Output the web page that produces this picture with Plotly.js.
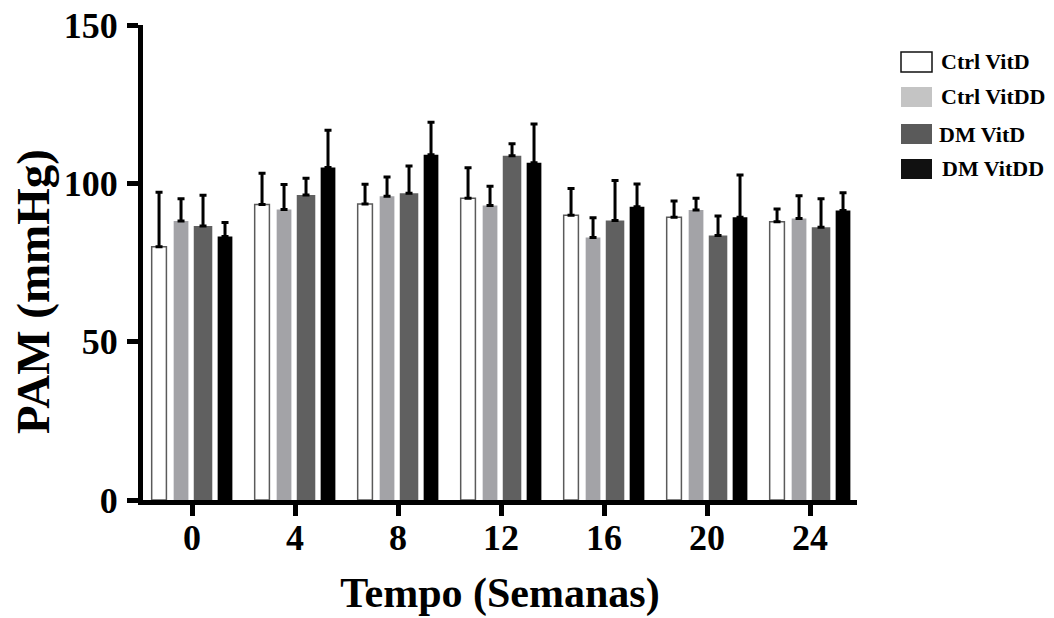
<!DOCTYPE html>
<html>
<head>
<meta charset="utf-8">
<script src="https://cdn.plot.ly/plotly-3.0.1.min.js"></script>
<style>
  html, body { margin: 0; padding: 0; background: #ffffff; }
  #chart { width: 1054px; height: 618px; }
</style>
</head>
<body>
<div id="chart"></div>
<script>
// Mean arterial pressure (PAM) per group over 24 weeks, mean + SD
const weeks = ['0', '4', '8', '12', '16', '20', '24'];
const groupNames = ['Ctrl VitD', 'Ctrl VitDD', 'DM VitD', 'DM VitDD'];

const ctrlVitD      = [80.0, 93.3, 93.5, 95.3, 89.9, 89.3, 87.9];
const ctrlVitDSd    = [17.2,  9.9,  6.2,  9.6,  8.5,  5.1,  4.0];
const ctrlVitDD     = [88.1, 91.7, 95.9, 93.0, 82.9, 91.6, 88.9];
const ctrlVitDDSd   = [ 7.0,  7.9,  6.1,  6.1,  6.2,  3.7,  7.2];
const dmVitD        = [86.5, 96.3, 96.9, 108.7, 88.3, 83.5, 86.1];
const dmVitDSd      = [ 9.7,  5.3,  8.6,  3.8, 12.6,  6.2,  9.0];
const dmVitDD       = [83.2, 105.0, 109.0, 106.5, 92.6, 89.3, 91.4];
const dmVitDDSd     = [ 4.4, 11.8, 10.3, 12.2,  7.2, 13.3,  5.6];

const means = [ctrlVitD, ctrlVitDD, dmVitD, dmVitDD];
const sds = [ctrlVitDSd, ctrlVitDDSd, dmVitDSd, dmVitDDSd];

// styling
const barFill = ['#ffffff', '#a3a3a7', '#606060', '#000000'];
const barEdge = ['#5a5a5a', '#a3a3a7', '#606060', '#000000'];
const barEdgeWidth = [1.5, 0, 0, 0];
const barWidth = [0.143, 0.143, 0.18, 0.143];
const swatchFill = ['#ffffff', '#c4c4c4', '#5a5a5a', '#111111'];

const FONT = '"Liberation Serif", "Times New Roman", serif';

const traces = groupNames.map((name, i) => ({
  type: 'bar',
  name: name,
  x: weeks,
  y: means[i],
  width: barWidth[i],
  marker: { color: barFill[i], line: { color: barEdge[i], width: barEdgeWidth[i] } },
  error_y: {
    type: 'data', array: sds[i], symmetric: false,
    arrayminus: sds[i].map(() => 0),
    color: '#000000', thickness: 3, width: 3.5
  },
  showlegend: false,
  hoverinfo: 'x+y+name'
}));

// plot box in pixels, used to place the hand-drawn key
const W = 1054, H = 618;
const M = { l: 143, r: 197, t: 25, b: 118 };
const pw = W - M.l - M.r, ph = H - M.t - M.b;
const px = x => (x - M.l) / pw;
const py = y => (H - M.b - y) / ph;

const keyRows = [62, 97, 134, 169];
const keyTextX = [939, 939, 937, 940];
const shapes = [];
const annotations = [];
groupNames.forEach((name, i) => {
  const cy = keyRows[i];
  shapes.push({
    type: 'rect', xref: 'paper', yref: 'paper',
    x0: px(901), x1: px(932), y0: py(cy - 10), y1: py(cy + 10),
    fillcolor: swatchFill[i],
    line: { color: i === 0 ? '#111111' : swatchFill[i], width: i === 0 ? 1.5 : 0 }
  });
  annotations.push({
    xref: 'paper', yref: 'paper', x: px(keyTextX[i]), y: py(cy),
    xanchor: 'left', yanchor: 'middle', showarrow: false,
    text: '<b>' + name + '</b>',
    font: { family: FONT, size: 22, color: '#000000' }
  });
});

// vertical axis title
annotations.push({
  xref: 'paper', yref: 'paper', x: px(33), y: py(292),
  xanchor: 'center', yanchor: 'middle', showarrow: false,
  textangle: -90,
  text: '<b>PAM (mmHg)</b>',
  font: { family: FONT, size: 47, color: '#000000' }
});

const layout = {
  width: W, height: H,
  margin: M,
  paper_bgcolor: '#ffffff',
  plot_bgcolor: '#ffffff',
  barmode: 'group',
  bargap: 0.146,
  bargroupgap: 0,
  font: { family: FONT, color: '#000000' },
  xaxis: {
    type: 'category',
    range: [-0.476, 6.456],
    showgrid: false, zeroline: false,
    showline: true, linecolor: '#000000', linewidth: 5,
    ticks: 'outside', ticklen: 11, tickwidth: 5, tickcolor: '#000000',
    ticklabelstandoff: -9,
    tickfont: { family: FONT, size: 36, color: '#000000', weight: 'bold' },
    title: { text: '<b>Tempo (Semanas)</b>', font: { family: FONT, size: 42, color: '#000000' }, standoff: 22 }
  },
  yaxis: {
    range: [0, 150],
    tickvals: [0, 50, 100, 150],
    showgrid: false, zeroline: false,
    showline: true, linecolor: '#000000', linewidth: 5,
    ticks: 'outside', ticklen: 11, tickwidth: 5, tickcolor: '#000000',
    ticklabelstandoff: 2,
    tickfont: { family: FONT, size: 36, color: '#000000', weight: 'bold' }
  },
  shapes: shapes,
  annotations: annotations
};

Plotly.newPlot('chart', traces, layout, { displayModeBar: false, staticPlot: true });
</script>
</body>
</html>
